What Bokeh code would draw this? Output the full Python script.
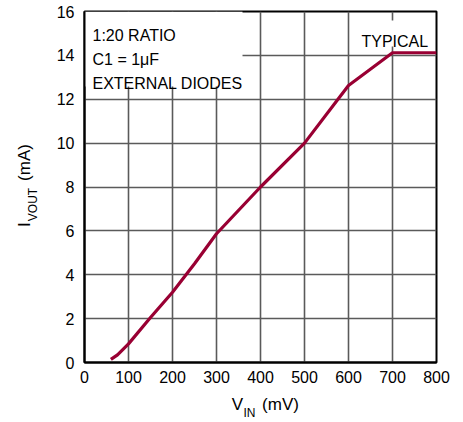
import math
from bokeh.plotting import figure
from bokeh.models import Range1d, FixedTicker, Label, ColumnDataSource, LinearAxis
from bokeh.embed import file_html
from bokeh.resources import INLINE

# ---- data ----
vin_mv = [60, 75, 100, 150, 200, 250, 300, 400, 500, 580, 600, 700, 800]
ivout_ma = [0.14, 0.35, 0.85, 2.05, 3.2, 4.5, 5.87, 8.0, 10.0, 12.1, 12.63, 14.12, 14.12]
x_ticks = [0, 100, 200, 300, 400, 500, 600, 700, 800]
y_ticks = [0, 2, 4, 6, 8, 10, 12, 14, 16]
notes = ["1:20 RATIO", "C1 = 1μF", "EXTERNAL DIODES"]
corner_note = "TYPICAL"
x_title = ["V", "IN", "(mV)"]
y_title = ["I", "VOUT", "(mA)"]

FONT = "Liberation Sans"
FS = "16px"
TS = "17px"
SUB = "12px"
CURVE = "#990033"

W, H = 463, 422
FL, FR, FT, FB = 84, 436, 11, 362  # frame edges in page pixels

p = figure(width=W, height=H, output_backend="svg", toolbar_location=None,
           x_range=Range1d(0, 800), y_range=Range1d(0, 16),
           min_border_left=FL, min_border_right=W - FR,
           min_border_top=FT, min_border_bottom=H - FB)
p.extra_x_ranges = {"px": Range1d(FL, FR)}
p.extra_y_ranges = {"px": Range1d(FB, FT)}
p.background_fill_color = "white"
p.border_fill_color = "white"
p.outline_line_color = "black"
p.outline_line_width = 2

xa = p.below[0]
ya = p.left[0]
for ax in (xa, ya):
    ax.axis_line_color = "black"
    ax.axis_line_width = 2
    ax.major_tick_out = 0
    ax.major_tick_in = 0
    ax.minor_tick_out = 0
    ax.minor_tick_in = 0
    ax.major_label_text_font = FONT
    ax.major_label_text_font_size = FS
    ax.major_label_text_color = "black"
xa.ticker = FixedTicker(ticks=x_ticks)
ya.ticker = FixedTicker(ticks=y_ticks)
xa.major_label_standoff = 8
ya.major_label_standoff = 10

p.xgrid.ticker = FixedTicker(ticks=x_ticks)
p.ygrid.ticker = FixedTicker(ticks=y_ticks)
for g in (p.xgrid, p.ygrid):
    g.grid_line_color = "#5a5a5a"
    g.grid_line_width = 1.6

sx = (FR - FL) / 800.0
sy = (FB - FT) / 16.0

def dx(px):
    return (px - FL) / sx

def dy(py):
    return (FB - py) / sy

# white boxes behind the notes
p.quad(left=[0, dx(356)], right=[dx(242), dx(428)],
       top=[16, dy(20)], bottom=[dy(86), dy(46)],
       fill_color="white", line_color=None)

src = ColumnDataSource(dict(x=vin_mv, y=ivout_ma))
p.line("x", "y", source=src, line_color=CURVE, line_width=3.2, line_join="round")

def lab(text, px, py, size=FS):
    p.add_layout(Label(x=dx(px), y=dy(py), text=text, text_font=FONT,
                       text_font_size=size, text_color="black",
                       text_align="left", text_baseline="alphabetic"))

for i, t in enumerate(notes):
    lab(t, 92, 35 + 24 * i)
lab(corner_note, 361, 41)

def title_axis(side, labels, size, standoff, orient="horizontal"):
    if side == "below":
        ax = LinearAxis(x_range_name="px")
    else:
        ax = LinearAxis(y_range_name="px")
    ax.ticker = FixedTicker(ticks=list(labels.keys()))
    ax.major_label_overrides = labels
    ax.axis_line_color = None
    ax.major_tick_out = 0
    ax.major_tick_in = 0
    ax.minor_tick_out = 0
    ax.minor_tick_in = 0
    ax.major_label_text_font = FONT
    ax.major_label_text_font_size = size
    ax.major_label_text_color = "black"
    ax.major_label_standoff = standoff
    ax.major_label_orientation = orient
    p.add_layout(ax, side)
    return ax

# x axis title: V_IN (mV)   (tick positions are page pixel centres)
title_axis("below", {237: x_title[0], 280: x_title[2]}, TS, 9)
title_axis("below", {249: x_title[1]}, SUB, -11)

# y axis title: I_VOUT (mA)
title_axis("left", {204: y_title[1]}, SUB, 14, "parallel")
title_axis("left", {224: y_title[0], 162: y_title[2]}, TS, -11, "parallel")

open("out.html", "w").write(file_html(p, INLINE))
